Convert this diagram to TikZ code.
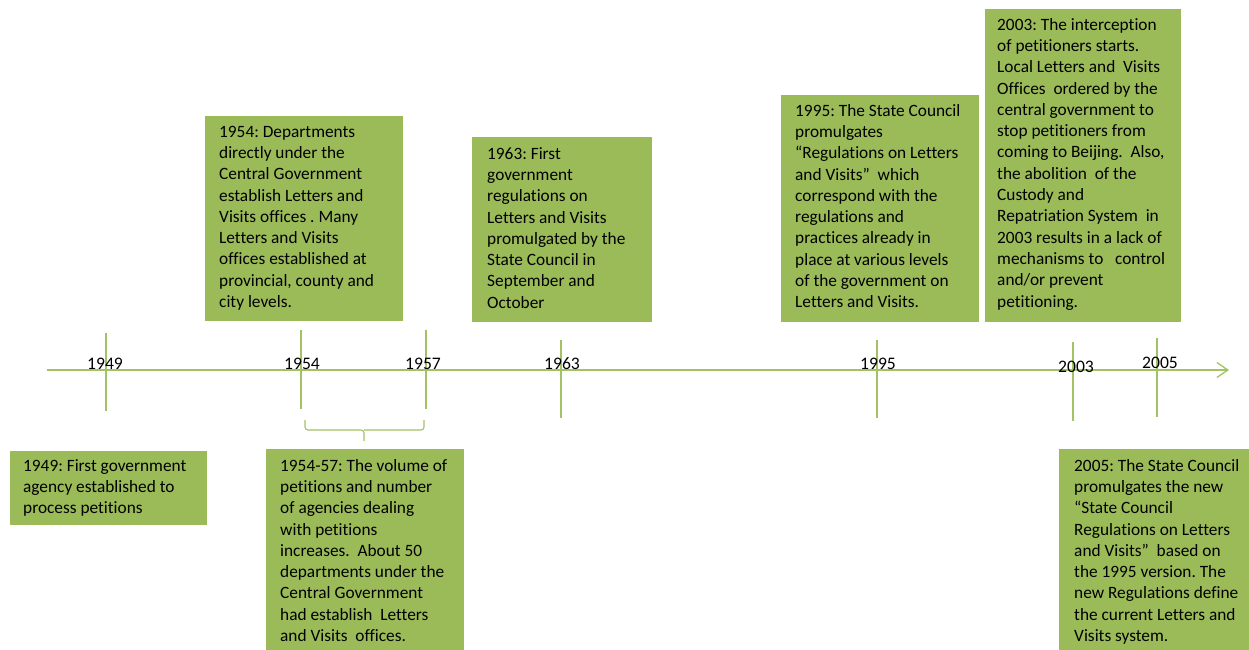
\documentclass[tikz,border=0pt]{standalone}
\usepackage{fontspec}
\setmainfont{Carlito}[Ligatures={NoCommon}]
\frenchspacing
\usetikzlibrary{arrows.meta}
\definecolor{boxgreen}{HTML}{9BBB59}
\definecolor{linegreen}{HTML}{A2C264}
\tikzset{
  box/.style={fill=boxgreen, draw=none, inner sep=0pt, anchor=north west},
  txt/.style={inner sep=0pt, anchor=north west, align=left, text=black,
              font=\fontsize{17.3}{21.3}\selectfont},
  yr/.style={inner sep=0pt, anchor=center, text=black, font=\fontsize{17.6}{19}\selectfont},
  tick/.style={draw=linegreen, line width=1.3pt},
  axis/.style={draw=linegreen, line width=1.3pt, -{Straight Barb[length=11pt,width=15pt,line width=1.3pt]}},
}
\begin{document}
\begin{tikzpicture}[x=1pt,y=-1pt]
\useasboundingbox (0,0) rectangle (1249,649);

% axis
\coordinate (axs) at (47,370);
\coordinate (axe) at (1229,370);
\draw[axis] (axs) -- (axe);

% ticks
\coordinate (t49a) at (106,333); \coordinate (t49b) at (106,411);
\coordinate (t54a) at (301,330); \coordinate (t54b) at (301,409);
\coordinate (t57a) at (426,330); \coordinate (t57b) at (426,409);
\coordinate (t63a) at (561,340); \coordinate (t63b) at (561,418);
\coordinate (t95a) at (877,340); \coordinate (t95b) at (877,418);
\coordinate (t03a) at (1073,342); \coordinate (t03b) at (1073,421);
\coordinate (t05a) at (1157,338); \coordinate (t05b) at (1157,417);
\foreach \t in {49,54,57,63,95,03,05} {\draw[tick] (t\t a) -- (t\t b);}

% year labels
\node[yr] (y49) at (105,364) {1949};
\node[yr] (y54) at (302,364) {1954};
\node[yr] (y57) at (423,364) {1957};
\node[yr] (y63) at (562,364) {1963};
\node[yr] (y95) at (878,364) {1995};
\node[yr] (y03) at (1076,367) {2003};
\node[yr] (y05) at (1160,363) {2005};

% brace
\coordinate (brl) at (305,420);
\coordinate (brr) at (424,420);
\coordinate (brm) at (364,430);
\coordinate (brt) at (364,441);
\draw[tick, line width=1.1pt, rounded corners=3pt] (brl) |- (brm) -- (brt);
\draw[tick, line width=1.1pt, rounded corners=3pt] (brr) |- (brm);

% boxes
\node[box, minimum width=197pt, minimum height=74pt] (b49) at (10,451) {};
\node[box, minimum width=198pt, minimum height=205pt] (b54) at (205,116) {};
\node[box, minimum width=198pt, minimum height=201pt] (b5457) at (266,449) {};
\node[box, minimum width=180pt, minimum height=185pt] (b63) at (472,137) {};
\node[box, minimum width=198pt, minimum height=227pt] (b95) at (781,95) {};
\node[box, minimum width=196pt, minimum height=313pt] (b03) at (985,9) {};
\node[box, minimum width=190pt, minimum height=201pt] (b05) at (1059,449) {};

% texts
\node[txt] (x49) at (23,456) {\strut 1949: First government\\agency established to\\process petitions};
\node[txt] (x54) at (219,122) {\strut 1954: Departments\\directly under the\\Central Government\\establish Letters and\\Visits offices . Many\\Letters and Visits\\offices established at\\provincial, county and\\city levels.};
\node[txt] (x5457) at (280,456) {\strut 1954-57: The volume of\\petitions and number\\of agencies dealing\\with petitions\\increases.\ \ About 50\\departments under the\\Central Government\\had establish\ \ Letters\\and Visits\ \ offices.};
\node[txt] (x63) at (487,144) {\strut 1963: First\\government\\regulations on\\Letters and Visits\\promulgated by the\\State Council in\\September and\\October};
\node[txt] (x95) at (795,101) {\strut 1995: The State Council\\promulgates\\“Regulations on Letters\\and Visits”\ \ which\\correspond with the\\regulations and\\practices already in\\place at various levels\\of the government on\\Letters and Visits.};
\node[txt] (x03) at (997,15) {\strut 2003: The interception\\of petitioners starts.\\Local Letters and\ \ Visits\\Offices\ \ ordered by the\\central government to\\stop petitioners from\\coming to Beijing.\ \ Also,\\the abolition\ \ of the\\Custody and\\Repatriation System\ \ in\\2003 results in a lack of\\mechanisms to\ \ \ control\\and/or prevent\\petitioning.};
\node[txt] (x05) at (1074,456) {\strut 2005: The State Council\\promulgates the new\\“State Council\\Regulations on Letters\\and Visits”\ \ based on\\the 1995 version. The\\new Regulations define\\the current Letters and\\Visits system.};
\end{tikzpicture}
\end{document}
